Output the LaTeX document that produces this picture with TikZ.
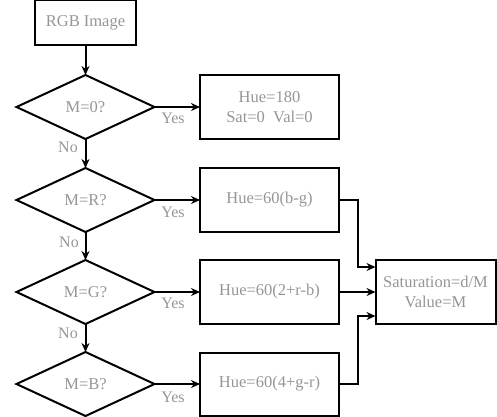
\documentclass[tikz,border=0pt]{standalone}
\usepackage{fontspec}
\setmainfont{Liberation Serif}
\usetikzlibrary{shapes.geometric,arrows.meta,calc}
\definecolor{txtgray}{RGB}{150,150,150}
\tikzset{
  box/.style={draw=black, line width=2pt, rectangle, inner sep=0pt, outer sep=0pt,
    text=txtgray, font=\fontsize{16.5}{20}\selectfont, align=center},
  dia/.style={draw=black, line width=2pt, diamond, aspect=2.15, inner sep=0pt, outer sep=0pt,
    minimum width=138pt, minimum height=64pt, text=txtgray, font=\fontsize{16.5}{20}\selectfont},
  lbl/.style={text=txtgray, font=\fontsize{16}{18}\selectfont, inner sep=0pt},
  arr/.style={line width=2pt, -{Stealth[length=9pt,width=8pt]}}
}
\begin{document}
\begin{tikzpicture}[x=1pt,y=-1pt]
\useasboundingbox[fill=white] (0,0) rectangle (497,416);
\node[box, minimum width=101pt, minimum height=45pt] (rgb) at (85.5,22.5) {RGB Image};
\node[dia] (d1) at (85.5,107) {M=0?};
\node[dia] (d2) at (85.5,200) {M=R?};
\node[dia] (d3) at (85.5,292) {M=G?};
\node[dia] (d4) at (85.5,384) {M=B?};
\node[box, minimum width=139pt, minimum height=64pt] (b1) at (269.5,107) {Hue=180\\Sat=0~~Val=0};
\node[box, minimum width=139pt, minimum height=64pt] (b2) at (269.5,200) {Hue=60(b-g)};
\node[box, minimum width=139pt, minimum height=64pt] (b3) at (269.5,292) {Hue=60(2+r-b)};
\node[box, minimum width=139pt, minimum height=63pt] (b4) at (269.5,384) {Hue=60(4+g-r)};
\node[box, minimum width=120pt, minimum height=64pt] (sat) at (435.5,292) {Saturation=d/M\\Value=M};
\draw[arr] (rgb.south) -- (d1.north);
\draw[arr] (d1.south) -- (d2.north);
\draw[arr] (d2.south) -- (d3.north);
\draw[arr] (d3.south) -- (d4.north);
\draw[arr] (d1.east) -- (b1.west);
\draw[arr] (d2.east) -- (b2.west);
\draw[arr] (d3.east) -- (b3.west);
\draw[arr] (d4.east) -- (b4.west);
\draw[arr] (b2.east) -| ([xshift=-18pt,yshift=25pt]sat.west) -- ([yshift=25pt]sat.west);
\draw[arr] (b3.east) -- (sat.west);
\draw[arr] (b4.east) -| ([xshift=-18pt,yshift=-24pt]sat.west) -- ([yshift=-24pt]sat.west);
\node[lbl] (y1) at (173,118) {Yes};
\node[lbl] (y2) at (173,212) {Yes};
\node[lbl] (y3) at (173,303) {Yes};
\node[lbl] (y4) at (173,397) {Yes};
\node[lbl] (n1) at (68,147) {No};
\node[lbl] (n2) at (69,242) {No};
\node[lbl] (n3) at (68,333) {No};
\end{tikzpicture}
\end{document}
